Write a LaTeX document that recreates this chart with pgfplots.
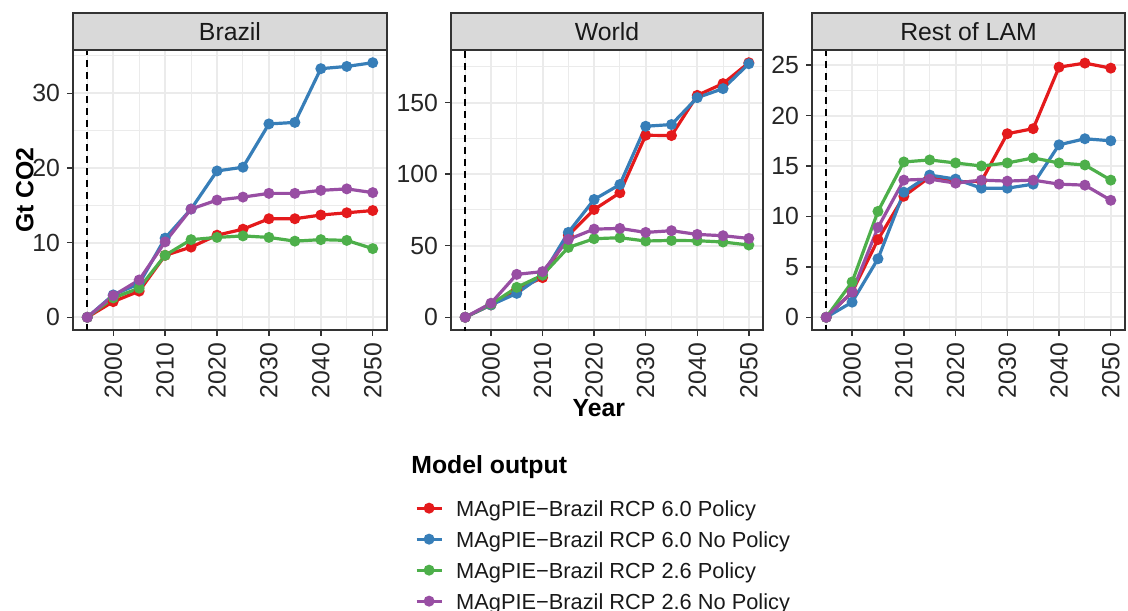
\documentclass[border=0pt]{standalone}
\usepackage{fontspec}
\setmainfont{Liberation Sans}
\usepackage{pgfplots}
\pgfplotsset{compat=1.18}
\definecolor{cRed}{HTML}{E41A1C}
\definecolor{cBlue}{HTML}{377EB8}
\definecolor{cGreen}{HTML}{4DAF4A}
\definecolor{cPurple}{HTML}{984EA3}
\definecolor{grid92}{HTML}{EBEBEB}
\definecolor{grey20}{HTML}{333333}
\definecolor{grey85}{HTML}{D9D9D9}
\newcommand\fs{\fontsize{12.4bp}{14bp}\selectfont}
\newcommand\fl{\fontsize{10.9bp}{13bp}\selectfont}
\pgfplotsset{
 every axis title shift=0pt,
 panel/.style={
  scale only axis, height=140bp,
  xmin=1992.25, xmax=2052.75,
  xtick={2000,2010,...,2050},
  minor xtick={1995,2005,...,2045},
  grid=both,
  major grid style={draw=grid92, line width=1bp},
  minor grid style={draw=grid92, line width=0.5bp},
  axis line style={draw=grey20, line width=0.7bp},
  major tick style={draw=grey20, line width=0.7bp},
  major tick length=3bp,
  minor tick length=0pt,
  tick align=outside,
  tick pos=left,
  xticklabel style={rotate=90, anchor=east, font=\fs, text=black!85},
  yticklabel style={font=\fs, text=black!85},
  /pgf/number format/assume math mode=true,
  /pgf/number format/1000 sep={},
  title style={at={(0.5,1)}, anchor=south, yshift=0pt, draw=grey20, fill=grey85, line width=0.7bp,
     minimum height=18.5bp, inner sep=0pt, outer sep=0pt, font=\fs, text=black!90},
  every axis plot/.append style={line width=1.6bp, mark=*, mark size=1.9bp, mark options={solid}},
 },
 refline/.style={black, line width=0.8bp, dash pattern=on 3.5bp off 2.5bp, mark=none, forget plot},
}
\begin{document}
\begin{tikzpicture}
\path[use as bounding box] (0,0) rectangle (564bp,305.5bp);

% Brazil
\begin{axis}[panel, width=157bp, at={(36.5bp,140.5bp)}, anchor=south west,
  title={Brazil}, title style={minimum width=157bp},
  ymin=-1.7, ymax=35.8, ytick={0,10,20,30}, minor ytick={5,15,25,35},
  ylabel={\textbf{Gt CO2}}, ylabel style={at={(axis description cs:-0.153,0.5)}, anchor=center, font=\fs}]
\addplot[refline] coordinates {(1995,-5) (1995,40)};
\addplot[cRed, mark options={fill=cRed}] coordinates {(1995,0)(2000,2.1)(2005,3.5)(2010,8.3)(2015,9.4)(2020,11.0)(2025,11.8)(2030,13.2)(2035,13.2)(2040,13.7)(2045,14.0)(2050,14.3)};
\addplot[cBlue, mark options={fill=cBlue}] coordinates {(1995,0)(2000,3.0)(2005,4.5)(2010,10.6)(2015,14.5)(2020,19.6)(2025,20.1)(2030,25.9)(2035,26.1)(2040,33.3)(2045,33.6)(2050,34.1)};
\addplot[cGreen, mark options={fill=cGreen}] coordinates {(1995,0)(2000,2.6)(2005,3.9)(2010,8.3)(2015,10.4)(2020,10.7)(2025,10.9)(2030,10.7)(2035,10.2)(2040,10.4)(2045,10.3)(2050,9.2)};
\addplot[cPurple, mark options={fill=cPurple}] coordinates {(1995,0)(2000,2.9)(2005,5.0)(2010,10.1)(2015,14.5)(2020,15.7)(2025,16.1)(2030,16.6)(2035,16.6)(2040,17.0)(2045,17.2)(2050,16.7)};
\end{axis}

% World
\begin{axis}[panel, width=156bp, at={(225.5bp,140.5bp)}, anchor=south west,
  title={World}, title style={minimum width=156bp},
  ymin=-8.9, ymax=186.8, ytick={0,50,100,150}, minor ytick={25,75,125,175},
  xlabel={\textbf{Year}}, xlabel style={at={(axis description cs:0.474,-0.279)}, anchor=center, font=\fs},
  legend cell align=left,
  legend image code/.code={\draw[mark repeat=2,mark phase=2,#1] plot coordinates {(0bp,1.5bp) (6.25bp,1.5bp) (12.5bp,1.5bp)};},
  legend style={at={(axis description cs:-0.1154,-0.607)}, anchor=north west, draw=none, fill=none,
    inner sep=0pt, outer sep=0pt, row sep=4.3bp,
    nodes={inner sep=0pt, text height=8.2bp, text depth=3bp, font=\fl, text=black!90},
    /tikz/every odd column/.style={column sep=6.5bp}}]
\addplot[refline] coordinates {(1995,-20) (1995,200)};
\addplot[cRed, mark options={fill=cRed}] coordinates {(1995,0)(2000,8.6)(2005,19.5)(2010,27.7)(2015,57.4)(2020,75.3)(2025,87.0)(2030,127.2)(2035,127.0)(2040,155.1)(2045,163.3)(2050,177.9)};
\addlegendentry{MAgPIE\textminus Brazil RCP 6.0 Policy}
\addplot[cBlue, mark options={fill=cBlue}] coordinates {(1995,0)(2000,8.6)(2005,16.7)(2010,29.5)(2015,59.3)(2020,82.3)(2025,92.8)(2030,133.5)(2035,134.7)(2040,153.5)(2045,159.8)(2050,177.2)};
\addlegendentry{MAgPIE\textminus Brazil RCP 6.0 No Policy}
\addplot[cGreen, mark options={fill=cGreen}] coordinates {(1995,0)(2000,9.1)(2005,20.9)(2010,29.5)(2015,48.8)(2020,54.9)(2025,55.6)(2030,53.3)(2035,53.7)(2040,53.5)(2045,52.6)(2050,50.5)};
\addlegendentry{MAgPIE\textminus Brazil RCP 2.6 Policy}
\addplot[cPurple, mark options={fill=cPurple}] coordinates {(1995,0)(2000,9.8)(2005,30.0)(2010,31.9)(2015,54.4)(2020,61.6)(2025,62.1)(2030,59.3)(2035,60.5)(2040,57.9)(2045,57.0)(2050,55.1)};
\addlegendentry{MAgPIE\textminus Brazil RCP 2.6 No Policy}
\end{axis}

% Rest of LAM
\begin{axis}[panel, width=156.5bp, at={(406bp,140.5bp)}, anchor=south west,
  title={Rest of LAM}, title style={minimum width=156.5bp},
  ymin=-1.26, ymax=26.5, ytick={0,5,...,25}, minor ytick={2.5,7.5,...,22.5},
  ]
\addplot[refline] coordinates {(1995,-5) (1995,30)};
\addplot[cRed, mark options={fill=cRed}] coordinates {(1995,0)(2000,2.5)(2005,7.7)(2010,12.0)(2015,13.9)(2020,13.4)(2025,13.5)(2030,18.2)(2035,18.7)(2040,24.8)(2045,25.2)(2050,24.7)};
\addplot[cBlue, mark options={fill=cBlue}] coordinates {(1995,0)(2000,1.5)(2005,5.8)(2010,12.4)(2015,14.1)(2020,13.7)(2025,12.8)(2030,12.8)(2035,13.2)(2040,17.1)(2045,17.7)(2050,17.5)};
\addplot[cGreen, mark options={fill=cGreen}] coordinates {(1995,0)(2000,3.5)(2005,10.5)(2010,15.4)(2015,15.6)(2020,15.3)(2025,15.0)(2030,15.3)(2035,15.8)(2040,15.3)(2045,15.1)(2050,13.6)};
\addplot[cPurple, mark options={fill=cPurple}] coordinates {(1995,0)(2000,2.5)(2005,8.9)(2010,13.6)(2015,13.7)(2020,13.3)(2025,13.6)(2030,13.5)(2035,13.6)(2040,13.2)(2045,13.1)(2050,11.6)};
\end{axis}

\node[anchor=west, font=\fs\bfseries, inner sep=0pt] at (205.5bp,72bp) {Model output};
\end{tikzpicture}
\end{document}
